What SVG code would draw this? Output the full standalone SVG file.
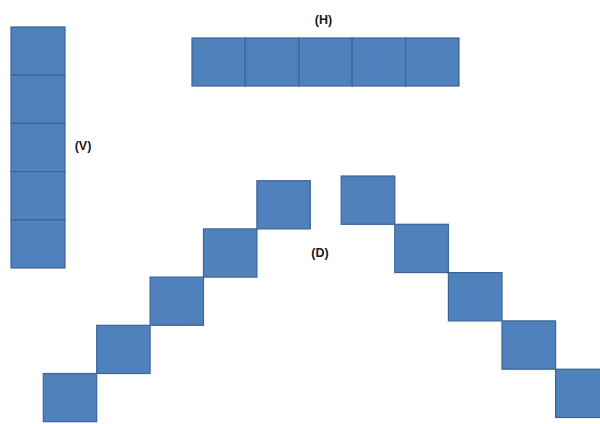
<svg xmlns="http://www.w3.org/2000/svg" width="600" height="424" viewBox="0 0 600 424">
<style>
.sq{fill:#4f81bd;stroke:#3c6494;stroke-width:1.2}
.lbl{font-family:"Liberation Sans",Arial,sans-serif;font-weight:bold;font-size:12.5px;fill:#1a1a1a;text-anchor:middle}
</style>
<rect width="600" height="424" fill="#ffffff"/>
<g id="V">
<rect class="sq" x="11" y="27" width="54" height="48.2"/>
<rect class="sq" x="11" y="75.2" width="54" height="48.2"/>
<rect class="sq" x="11" y="123.4" width="54" height="48.2"/>
<rect class="sq" x="11" y="171.6" width="54" height="48.2"/>
<rect class="sq" x="11" y="219.8" width="54" height="48.2"/>
</g>
<g id="H">
<rect class="sq" x="192" y="38" width="53.4" height="48"/>
<rect class="sq" x="245.4" y="38" width="53.4" height="48"/>
<rect class="sq" x="298.8" y="38" width="53.4" height="48"/>
<rect class="sq" x="352.2" y="38" width="53.4" height="48"/>
<rect class="sq" x="405.6" y="38" width="53.4" height="48"/>
</g>
<g id="D-left">
<rect class="sq" x="43.3" y="373.5" width="53.4" height="48.2"/>
<rect class="sq" x="96.7" y="325.3" width="53.4" height="48.2"/>
<rect class="sq" x="150.1" y="277.1" width="53.4" height="48.2"/>
<rect class="sq" x="203.5" y="228.9" width="53.4" height="48.2"/>
<rect class="sq" x="256.9" y="180.7" width="53.4" height="48.2"/>
</g>
<g id="D-right">
<rect class="sq" x="341.2" y="176" width="53.6" height="48.3"/>
<rect class="sq" x="394.8" y="224.3" width="53.6" height="48.3"/>
<rect class="sq" x="448.4" y="272.6" width="53.6" height="48.3"/>
<rect class="sq" x="502" y="320.9" width="53.6" height="48.3"/>
<rect class="sq" x="555.6" y="369.2" width="53.6" height="48.3"/>
</g>
<g id="labels">
<text class="lbl" x="323.5" y="23.5">(H)</text>
<text class="lbl" x="83" y="149.5">(V)</text>
<text class="lbl" x="320" y="256.5">(D)</text>
</g>
</svg>
